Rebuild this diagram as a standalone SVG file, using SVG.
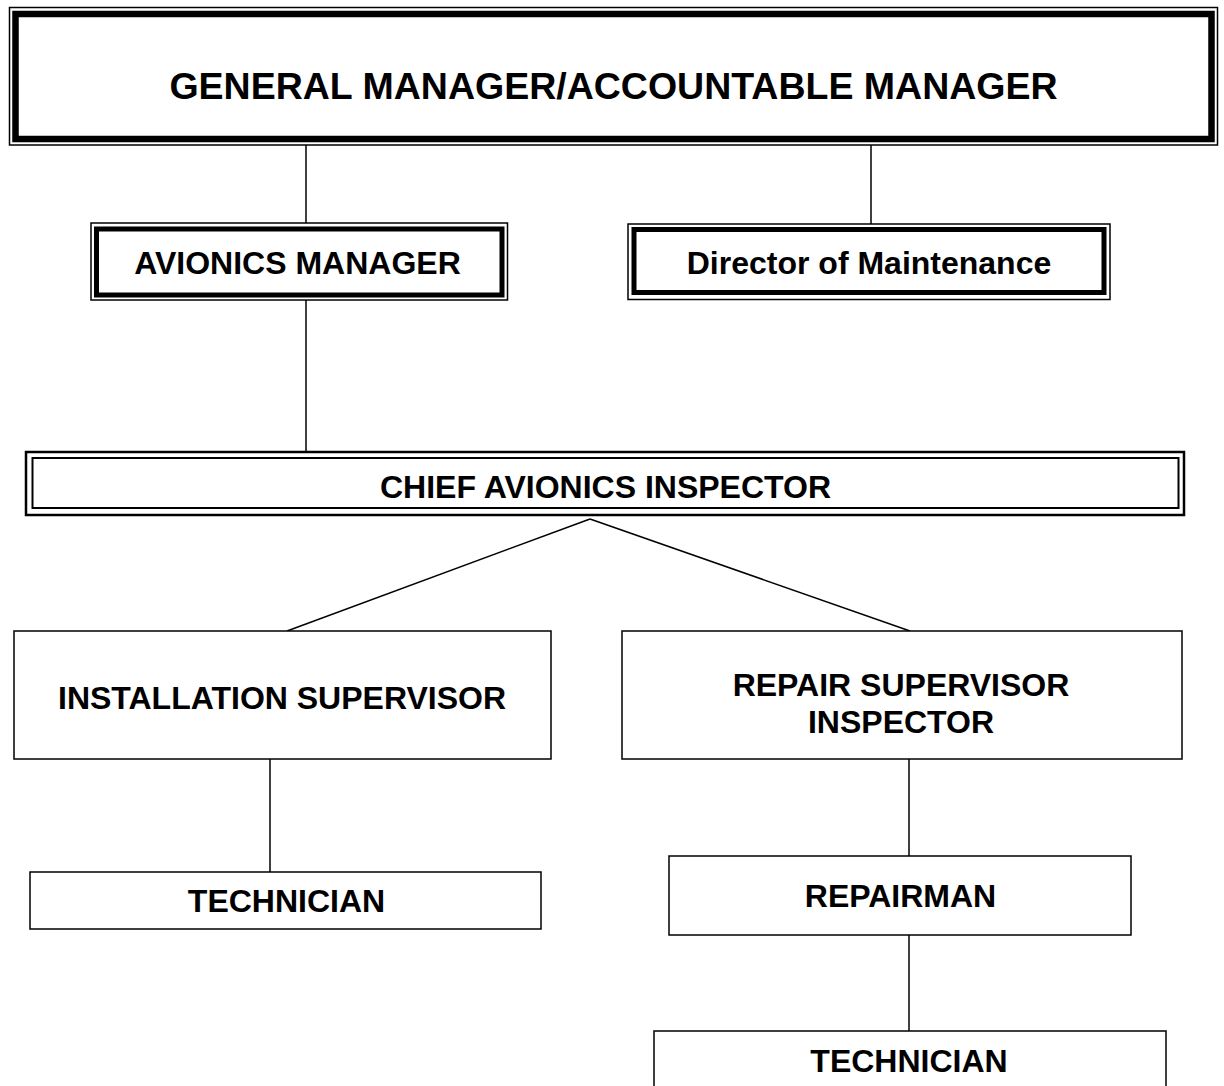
<svg xmlns="http://www.w3.org/2000/svg" width="1224" height="1086" viewBox="0 0 1224 1086">
<style>
  text { font-family: "Liberation Sans", Arial, sans-serif; font-weight: bold; fill: #000; text-anchor: middle; }
  .t { font-size: 32px; }
  .big { font-size: 37.5px; }
  .thin { fill: none; stroke: #000; stroke-width: 1.5; }
  .thick { fill: none; stroke: #000; stroke-width: 6.5; }
  .mid { fill: none; stroke: #000; stroke-width: 2.5; }
  .box { fill: #fff; stroke: #000; stroke-width: 1.5; }
  .conn line { stroke: #000; stroke-width: 1.5; }
</style>
<rect width="1224" height="1086" fill="#fff"/>
<g class="conn" id="connectors">
  <line x1="306" y1="145" x2="306" y2="223"/>
  <line x1="871" y1="145" x2="871" y2="224"/>
  <line x1="306" y1="300" x2="306" y2="452"/>
  <line x1="590" y1="519" x2="287" y2="631"/>
  <line x1="590" y1="519" x2="910" y2="631"/>
  <line x1="270" y1="759" x2="270" y2="872"/>
  <line x1="909" y1="759" x2="909" y2="856"/>
  <line x1="909" y1="935" x2="909" y2="1031"/>
</g>
<g id="gm">
  <rect class="thin" x="9.5" y="7.5" width="1208" height="137.5"/>
  <rect class="thick" x="15.5" y="14" width="1196" height="125"/>
  <text class="big" x="613.5" y="99">GENERAL MANAGER/ACCOUNTABLE MANAGER</text>
</g>
<g id="avionics-manager">
  <rect class="thin" x="91" y="223" width="416.5" height="77"/>
  <rect class="thick" x="96.5" y="229" width="405.5" height="66" style="stroke-width:5"/>
  <text class="t" x="297.5" y="274">AVIONICS MANAGER</text>
</g>
<g id="director">
  <rect class="thin" x="628" y="224" width="482" height="75.5"/>
  <rect class="thick" x="634" y="229.5" width="470" height="63" style="stroke-width:5"/>
  <text class="t" x="869" y="274">Director of Maintenance</text>
</g>
<g id="chief">
  <rect class="mid" x="26" y="452" width="1158" height="63"/>
  <rect class="mid" x="32.5" y="458" width="1146" height="50" style="stroke-width:2"/>
  <text class="t" x="605.5" y="498">CHIEF AVIONICS INSPECTOR</text>
</g>
<g id="installation">
  <rect class="box" x="14" y="631" width="537" height="128"/>
  <text class="t" x="282" y="709">INSTALLATION SUPERVISOR</text>
</g>
<g id="repair">
  <rect class="box" x="622" y="631" width="560" height="128"/>
  <text class="t" x="901" y="696">REPAIR SUPERVISOR</text>
  <text class="t" x="901" y="733">INSPECTOR</text>
</g>
<g id="technician-left">
  <rect class="box" x="30" y="872" width="511" height="57"/>
  <text class="t" x="286.5" y="912">TECHNICIAN</text>
</g>
<g id="repairman">
  <rect class="box" x="669" y="856" width="462" height="79"/>
  <text class="t" x="900.5" y="907">REPAIRMAN</text>
</g>
<g id="technician-right">
  <rect class="box" x="654" y="1031" width="512" height="80"/>
  <text class="t" x="909" y="1072">TECHNICIAN</text>
</g>
</svg>
